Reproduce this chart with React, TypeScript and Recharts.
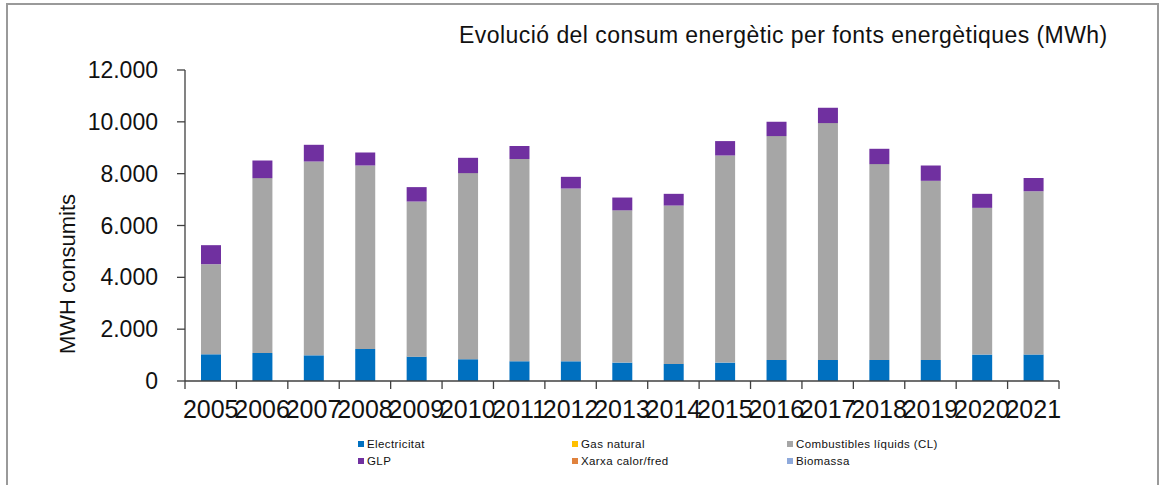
import { BarChart, Bar, XAxis, YAxis } from "recharts";

const YEARS = ["2005", "2006", "2007", "2008", "2009", "2010", "2011", "2012", "2013", "2014", "2015", "2016", "2017", "2018", "2019", "2020", "2021"];
const ELECTRICITAT = [1030, 1080, 990, 1235, 940, 840, 760, 760, 710, 660, 710, 810, 810, 810, 810, 1020, 1020];
const GAS_NATURAL = [0, 0, 0, 0, 0, 0, 0, 0, 0, 0, 0, 0, 0, 0, 0, 0, 0];
const COMBUSTIBLES = [3477, 6748, 7479, 7080, 5985, 7181, 7802, 6667, 5875, 6110, 7991, 8640, 9142, 7559, 6914, 5661, 6306];
const GLP = [734, 680, 645, 502, 556, 591, 502, 451, 494, 452, 556, 553, 591, 591, 591, 541, 502];
const XARXA = [0, 0, 0, 0, 0, 0, 0, 0, 0, 0, 0, 0, 0, 0, 0, 0, 0];
const BIOMASSA = [0, 0, 0, 0, 0, 0, 0, 0, 0, 0, 0, 0, 0, 0, 0, 0, 0];
const Y_TICKS = [0, 2000, 4000, 6000, 8000, 10000, 12000];

const SERIES = [
  { key: "elec", name: "Electricitat", color: "#0070C0", values: ELECTRICITAT },
  { key: "gas", name: "Gas natural", color: "#FFC000", values: GAS_NATURAL },
  { key: "cl", name: "Combustibles líquids (CL)", color: "#A6A6A6", values: COMBUSTIBLES },
  { key: "glp", name: "GLP", color: "#7030A0", values: GLP },
  { key: "xarxa", name: "Xarxa calor/fred", color: "#E0823D", values: XARXA },
  { key: "bio", name: "Biomassa", color: "#8EA9DB", values: BIOMASSA },
];

const data = YEARS.map((year, i) => {
  const row: Record<string, string | number> = { year };
  SERIES.forEach((s) => {
    row[s.key] = s.values[i];
  });
  return row;
});

const W = 1161;
const H = 485;
const MARGIN = { top: 70, right: 102, bottom: 54, left: 85 };
const Y_AXIS_W = 100;
const PLOT_W = W - MARGIN.left - MARGIN.right - Y_AXIS_W;
const BAND = PLOT_W / YEARS.length;
const TICK_SIZE = 8;
const TICK_MARGIN = 11;
const FONT = "'Liberation Sans', Arial, sans-serif";

const fmt = (v: number) => String(v).replace(/\B(?=(\d{3})+(?!\d))/g, ".");

function XTick(props: any) {
  const { x, y, payload, index } = props;
  const axisY = y - TICK_SIZE - TICK_MARGIN;
  const left = x - BAND / 2;
  const right = x + BAND / 2;
  return (
    <g>
      <line x1={left} x2={left} y1={axisY} y2={axisY + TICK_SIZE} stroke="#404040" strokeWidth={1.3} />
      {index === YEARS.length - 1 && (
        <line x1={right} x2={right} y1={axisY} y2={axisY + TICK_SIZE} stroke="#404040" strokeWidth={1.3} />
      )}
      <text x={x} y={y} dy="0.71em" textAnchor="middle" fontSize={25} fill="#111" fontFamily={FONT}>
        {payload.value}
      </text>
    </g>
  );
}

function YLabel(props: any) {
  const { viewBox } = props;
  const cx = viewBox.x - 18;
  const cy = 274;
  return (
    <text x={cx} y={cy} transform={`rotate(-90, ${cx}, ${cy})`} textAnchor="middle" dominantBaseline="central" fontSize={22} fill="#111" fontFamily={FONT}>
      MWH consumits
    </text>
  );
}

export default function App() {
  return (
    <div style={{ position: "absolute", left: 0, top: 0, width: W, height: H, background: "#fff", overflow: "hidden", fontFamily: FONT }}>
      <div style={{ position: "absolute", left: 6, top: 3, width: W - 8, height: H + 20, border: "2px solid #9a9a9a", boxSizing: "border-box" }} />
      <div style={{ position: "absolute", left: 459, top: 21, fontSize: 23, letterSpacing: 0.45, color: "#111", whiteSpace: "nowrap", lineHeight: "28px" }}>
        Evolució del consum energètic per fonts energètiques (MWh)
      </div>
      <BarChart width={W} height={H} data={data} margin={MARGIN} barSize={20} style={{ position: "absolute", left: 0, top: 0 }}>
        <XAxis
          dataKey="year"
          height={50}
          tick={<XTick />}
          tickLine={false}
          tickSize={TICK_SIZE}
          tickMargin={TICK_MARGIN}
          interval={0}
          axisLine={{ stroke: "#404040", strokeWidth: 1.3 }}
        />
        <YAxis
          width={Y_AXIS_W}
          domain={[0, 12000]}
          ticks={Y_TICKS}
          tickFormatter={fmt}
          tickSize={TICK_SIZE}
          tickMargin={19}
          tick={{ fontSize: 23, fill: "#111", fontFamily: FONT }}
          tickLine={{ stroke: "#404040", strokeWidth: 1.3 }}
          axisLine={{ stroke: "#404040", strokeWidth: 1.3 }}
          label={<YLabel />}
        />
        {SERIES.map((s) => (
          <Bar key={s.key} dataKey={s.key} name={s.name} stackId="a" fill={s.color} isAnimationActive={false} />
        ))}
      </BarChart>
      {SERIES.map((s, i) => (
        <div
          key={s.key}
          style={{
            position: "absolute",
            left: [358, 572, 787][i % 3],
            top: i < 3 ? 437 : 454,
            height: 14,
            display: "flex",
            alignItems: "center",
            fontSize: 11.5,
            letterSpacing: 0.4,
            color: "#111",
            whiteSpace: "nowrap",
          }}
        >
          <span style={{ display: "inline-block", width: 6, height: 6, background: s.color, marginRight: 3 }} />
          {s.name}
        </div>
      ))}
    </div>
  );
}
